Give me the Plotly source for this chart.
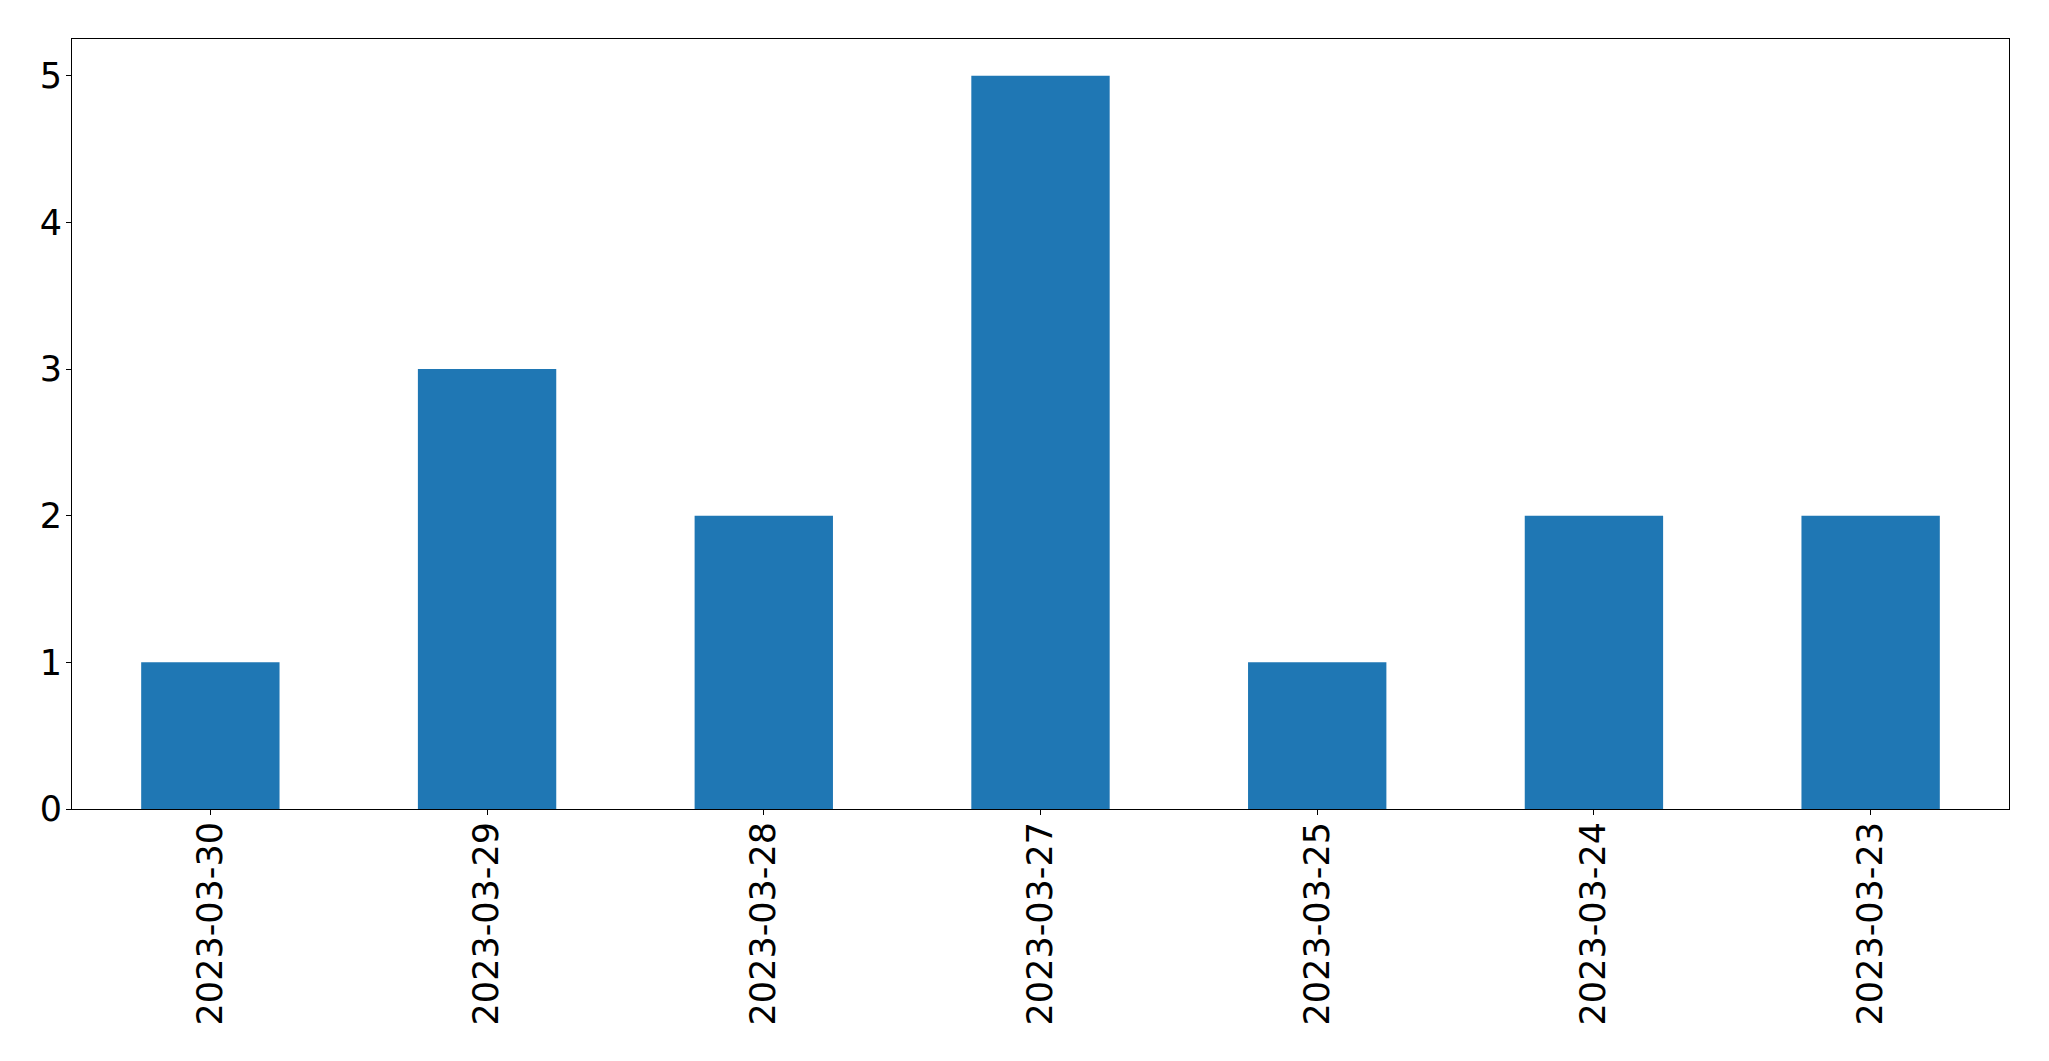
import plotly.graph_objects as go

dates = ["2023-03-30", "2023-03-29", "2023-03-28", "2023-03-27", "2023-03-25", "2023-03-24", "2023-03-23"]
counts = [1, 3, 2, 5, 1, 2, 2]

fig = go.Figure(go.Bar(x=dates, y=counts, marker=dict(color="#1f77b4", line=dict(width=0)), width=0.5))

axis_common = dict(showline=True, mirror=True, linecolor="black", linewidth=1,
                   ticks="outside", ticklen=5, tickcolor="black", tickwidth=1,
                   showgrid=False, zeroline=False, automargin=False,
                   tickfont=dict(family="DejaVu Sans", size=35, color="black"))

fig.update_layout(
    width=2049, height=1061,
    margin=dict(l=72, r=40, t=39, b=252, autoexpand=False),
    paper_bgcolor="white", plot_bgcolor="white",
    showlegend=False, bargap=0.5,
)
fig.update_xaxes(type="category", range=[-0.5, 6.5], tickangle=-90, ticklabelstandoff=-7, **axis_common)
fig.update_yaxes(range=[0, 5.25], tickvals=[0, 1, 2, 3, 4, 5], ticklabelstandoff=-3, **axis_common)

fig.write_html("out.html", config={"displayModeBar": False},
               post_script="document.body.style.margin='0px';document.body.style.overflow='hidden';")
